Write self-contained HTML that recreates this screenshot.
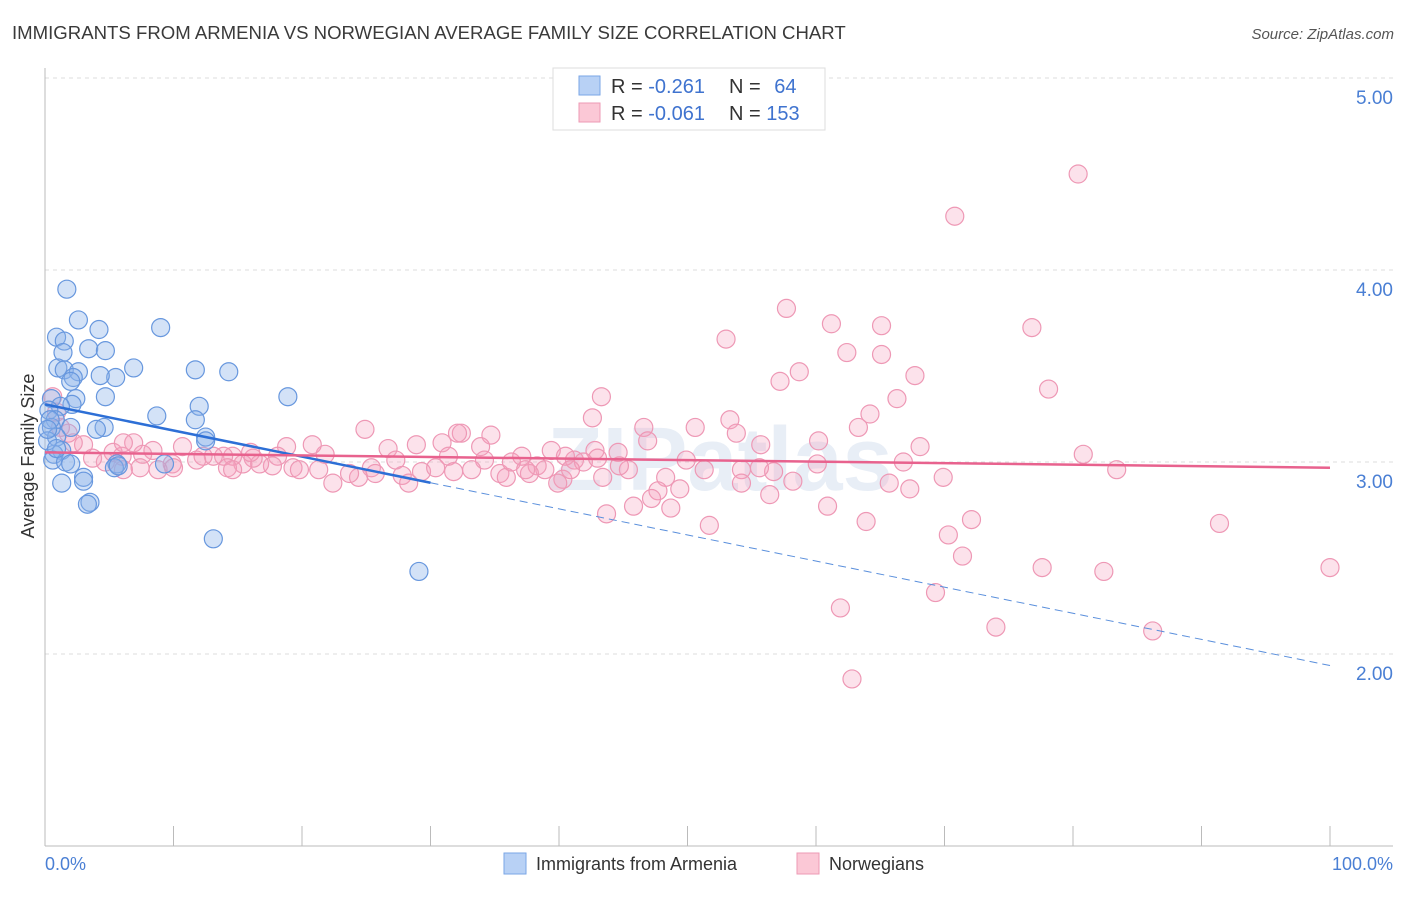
<!DOCTYPE html>
<html><head><meta charset="utf-8"><style>
body{margin:0;background:#fff;font-family:"Liberation Sans",sans-serif;}
svg text{font-family:"Liberation Sans",sans-serif;}
</style></head><body>
<svg id="chart" width="1406" height="892" xmlns="http://www.w3.org/2000/svg">
<text x="12" y="39" font-size="18.6" fill="#3a3a3a">IMMIGRANTS FROM ARMENIA VS NORWEGIAN AVERAGE FAMILY SIZE CORRELATION CHART</text>
<text x="1394" y="39" font-size="15" fill="#555" text-anchor="end" font-style="italic">Source: ZipAtlas.com</text>
<g id="grid"></g>
<text x="720" y="490" font-size="90" fill="#e8eef6" text-anchor="middle" font-weight="bold">ZIPatlas</text>
<g id="marks"></g>
<text transform="translate(34,456) rotate(-90)" font-size="18" fill="#333" text-anchor="middle">Average Family Size</text>
<text x="45" y="870" font-size="18" fill="#4a7fd4">0.0%</text>
<text x="1393" y="870" font-size="18" fill="#4a7fd4" text-anchor="end">100.0%</text>
<g>
<rect x="553" y="68" width="272" height="62" fill="#fff" stroke="#ddd"/>
<rect x="579" y="76" width="21" height="19" fill="#b8d1f5" stroke="#7aa6e6"/>
<rect x="579" y="103" width="21" height="19" fill="#fbc8d6" stroke="#ee9ab4"/>
<text x="611" y="93" font-size="20" fill="#333">R = <tspan fill="#3f73cf">-0.261</tspan></text>
<text x="729" y="93" font-size="20" fill="#333">N = <tspan fill="#3f73cf" dx="8">64</tspan></text>
<text x="611" y="120" font-size="20" fill="#333">R = <tspan fill="#3f73cf">-0.061</tspan></text>
<text x="729" y="120" font-size="20" fill="#333">N = <tspan fill="#3f73cf">153</tspan></text>
</g>
<g>
<rect x="504" y="853" width="22" height="21" fill="#b8d1f5" stroke="#7aa6e6"/>
<text x="536" y="870" font-size="18" fill="#333">Immigrants from Armenia</text>
<rect x="797" y="853" width="22" height="21" fill="#fbc8d6" stroke="#ee9ab4"/>
<text x="829" y="870" font-size="18" fill="#333">Norwegians</text>
</g>
</svg>
<script>
const yTicks=[2,3,4,5];
const yTickLabels=["2.00","3.00","4.00","5.00"];
const blueX=[1.7,2.6,0.9,4.2,9.0,1.5,1.4,3.4,4.7,6.9,11.7,14.3,1.0,1.5,2.6,2.2,5.5,4.3,2.0,18.9,4.7,2.4,0.5,2.1,12.0,8.7,1.2,0.3,11.7,0.8,4.6,4.0,2.0,0.5,12.5,12.5,0.9,1.3,0.7,0.6,1.6,2.0,5.6,5.4,9.3,3.0,3.0,1.3,3.5,3.3,13.1,29.1,5.7,0.2,0.4,0.2,0.9];
const blueY=[3.90,3.74,3.65,3.69,3.70,3.63,3.57,3.59,3.58,3.49,3.48,3.47,3.49,3.48,3.47,3.44,3.44,3.45,3.42,3.34,3.34,3.33,3.33,3.30,3.29,3.24,3.29,3.27,3.22,3.22,3.18,3.17,3.18,3.18,3.13,3.11,3.13,3.06,3.04,3.01,3.00,2.99,2.99,2.97,2.99,2.92,2.90,2.89,2.79,2.78,2.60,2.43,2.98,3.11,3.22,3.17,3.07];
const pinkX=[80.4,70.8,57.7,61.2,65.1,76.8,53.0,62.4,65.1,58.7,57.2,67.7,78.1,43.3,66.3,64.2,42.6,53.3,46.6,50.6,63.3,53.8,24.9,32.4,34.7,46.9,60.2,68.1,55.7,39.4,42.8,44.6,80.8,60.1,66.8,83.4,49.9,51.3,54.2,56.7,55.6,58.2,54.2,65.7,69.9,48.3,45.4,40.3,47.7,49.4,47.2,56.4,67.3,45.8,48.7,43.7,60.9,63.9,72.1,51.7,91.4,70.3,71.4,77.6,82.4,100,69.3,61.9,74.0,86.2,62.8,
28.9,30.9,32.1,26.7,27.3,25.4,25.7,27.8,28.3,29.3,30.4,31.4,31.8,24.4,23.7,22.4,21.3,21.8,20.8,19.3,19.8,18.8,18.1,17.7,16.7,16.2,15.4,16.0,14.6,13.9,13.1,12.3,11.8,10.7,9.9,8.8,8.4,7.6,6.9,6.0,5.3,4.7,3.7,3.0,2.2,1.8,1.2,0.6,0.9,7.4,6.1,14.2,10.0,6.1,14.6,
33.9,34.2,33.2,35.4,35.9,36.3,37.1,38.3,38.9,37.7,39.9,41.2,41.9,43.0,40.5,40.9,44.7,43.4,37.4];
const pinkY=[4.50,4.28,3.80,3.72,3.71,3.70,3.64,3.57,3.56,3.47,3.42,3.45,3.38,3.34,3.33,3.25,3.23,3.22,3.18,3.18,3.18,3.15,3.17,3.15,3.14,3.11,3.11,3.08,3.09,3.06,3.06,3.05,3.04,2.99,3.00,2.96,3.01,2.96,2.96,2.95,2.97,2.90,2.89,2.89,2.92,2.92,2.96,2.91,2.85,2.86,2.81,2.83,2.86,2.77,2.76,2.73,2.77,2.69,2.70,2.67,2.68,2.62,2.51,2.45,2.43,2.45,2.32,2.24,2.14,2.12,1.87,
3.09,3.10,3.15,3.07,3.01,2.97,2.94,2.93,2.89,2.95,2.97,3.03,2.95,2.92,2.94,2.89,2.96,3.04,3.09,2.97,2.96,3.08,3.03,2.98,2.99,3.02,2.99,3.05,3.03,3.03,3.03,3.03,3.01,3.08,2.99,2.96,3.06,3.04,3.10,3.03,3.05,3.00,3.02,3.09,3.10,3.15,3.18,3.34,3.26,2.97,3.10,2.97,2.97,2.96,2.96,
3.08,3.01,2.96,2.94,2.92,3.00,3.03,2.98,2.96,2.94,2.89,3.01,3.00,3.02,3.03,2.96,2.98,2.92,2.96];
const blueTrend=[3.30,1.94];   // y at 0% and 100%
const blueSolidEnd=30;
const pinkTrend=[3.05,2.97];
const NS="http://www.w3.org/2000/svg";
const sx=v=>45+v*12.85;
const sy=v=>846-(v-1)*192;
function mk(tag,attrs,parent){const e=document.createElementNS(NS,tag);for(const k in attrs)e.setAttribute(k,attrs[k]);parent.appendChild(e);return e;}
const grid=document.getElementById('grid'),marks=document.getElementById('marks');
yTicks.forEach((t,i)=>{
 const l=mk('line',{x1:45,x2:1393,y1:sy(t),y2:sy(t),stroke:'#ddd','stroke-dasharray':'4,4'},grid);
 
 
 const tx=mk('text',{x:1393,y:sy(t)+26,'font-size':19,fill:'#4a7fd4','text-anchor':'end'},grid);
 tx.textContent=yTickLabels[i];
 
 
});
const ax=mk('line',{x1:45,x2:45,y1:68,y2:846,stroke:'#bbb'},grid);


const bx=mk('line',{x1:45,x2:1393,y1:846,y2:846,stroke:'#bbb'},grid);


for(let i=0;i<=10;i++){
 const t=mk('line',{x1:sx(i*10),x2:sx(i*10),y1:826,y2:846,stroke:'#bbb'},grid);
 
 
}
pinkX.forEach((x,i)=>{
 const c=mk('circle',{cx:sx(x),cy:sy(pinkY[i]),r:9,fill:'rgba(244,160,188,0.3)',stroke:'#ee98b5','stroke-width':1.2},marks);
 
 
});
blueX.forEach((x,i)=>{
 const c=mk('circle',{cx:sx(x),cy:sy(blueY[i]),r:9,fill:'rgba(140,180,235,0.38)',stroke:'#6797de','stroke-width':1.2},marks);
 
 
});
const by=v=>blueTrend[0]+(blueTrend[1]-blueTrend[0])*v/100;
const bl=mk('line',{x1:sx(0),y1:sy(by(0)),x2:sx(blueSolidEnd),y2:sy(by(blueSolidEnd)),stroke:'#2d6fd6','stroke-width':2.5},marks);


const bd=mk('line',{x1:sx(blueSolidEnd),y1:sy(by(blueSolidEnd)),x2:sx(100),y2:sy(by(100)),stroke:'#5a8fdc','stroke-width':1,'stroke-dasharray':'8,5'},marks);


const pl=mk('line',{x1:sx(0),y1:sy(pinkTrend[0]),x2:sx(100),y2:sy(pinkTrend[1]),stroke:'#e8628e','stroke-width':2.5},marks);


</script>
</body></html>
